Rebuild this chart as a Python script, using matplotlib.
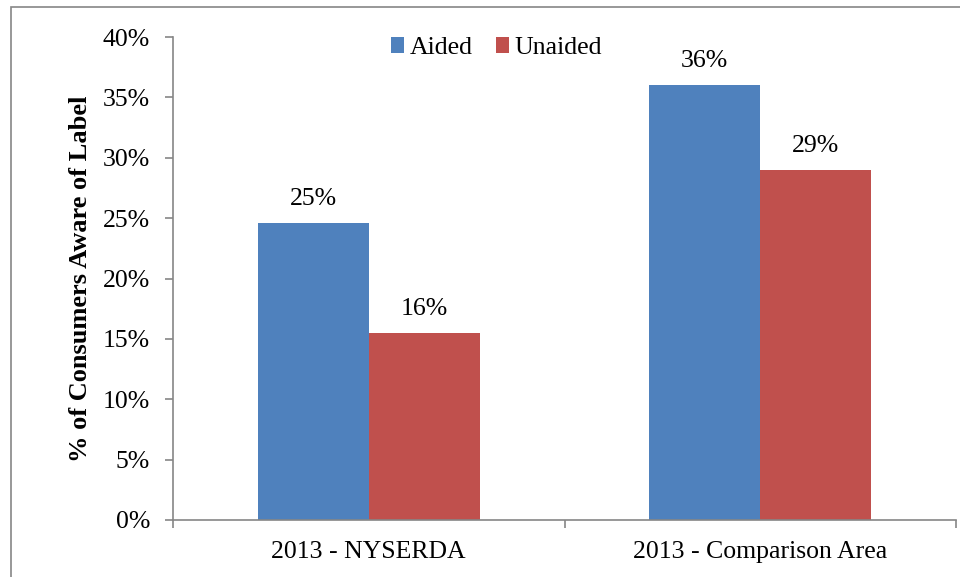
import numpy as np
import matplotlib.pyplot as plt
from matplotlib.patches import Rectangle
from matplotlib.ticker import FixedLocator

categories = ['2013 - NYSERDA', '2013 - Comparison Area']
aided = [24.6, 36.0]
unaided = [15.5, 29.0]
aided_labels = ['25%', '36%']
unaided_labels = ['16%', '29%']
yticks = [0, 5, 10, 15, 20, 25, 30, 35, 40]

plt.rcParams['font.family'] = ['Liberation Serif', 'DejaVu Serif']
fs = 18.5

fig = plt.figure(figsize=(9.6, 5.77), dpi=100)
ax = fig.add_axes([173/960, 57/577, 783/960, 483/577])

# outer chart border
fig.patches.append(Rectangle((10.5/960, -0.1), 1.2, (577-6.5)/577 + 0.1,
                             transform=fig.transFigure, fill=False,
                             edgecolor='#868686', linewidth=1.2))

x = np.arange(len(categories))
w = 0.284
b1 = ax.bar(x - w/2, aided, w, color='#4F81BD', label='Aided')
b2 = ax.bar(x + w/2, unaided, w, color='#C0504D', label='Unaided')

for rect, lab in zip(b1, aided_labels):
    ax.text(rect.get_x() + rect.get_width()/2, rect.get_height() + 1.1, lab,
            ha='center', va='bottom', fontsize=fs)
for rect, lab in zip(b2, unaided_labels):
    ax.text(rect.get_x() + rect.get_width()/2, rect.get_height() + 1.1, lab,
            ha='center', va='bottom', fontsize=fs)

ax.set_xlim(-0.5, 1.5)
ax.set_ylim(0, 40)
ax.set_yticks(yticks)
ax.set_yticklabels([f'{v}%' for v in yticks], fontsize=fs)
ax.set_xticks(x)
ax.set_xticklabels(categories, fontsize=fs)
ax.tick_params(axis='x', which='major', length=0, pad=15)
ax.xaxis.set_minor_locator(FixedLocator([-0.5, 0.5, 1.5]))
ax.tick_params(axis='x', which='minor', length=5.5, color='#868686', width=1.2)
ax.tick_params(axis='y', length=5.5, color='#868686', width=1.2, pad=11)

for s in ['top', 'right']:
    ax.spines[s].set_visible(False)
for s in ['left', 'bottom']:
    ax.spines[s].set_color('#868686')
    ax.spines[s].set_linewidth(1.2)

ax.set_ylabel('% of Consumers Aware of Label', fontsize=fs + 0.5,
              fontweight='bold', labelpad=8)

ax.legend(loc='center', bbox_to_anchor=(0.413, 0.977), ncol=2,
          frameon=False, fontsize=fs, handlelength=0.53, handleheight=0.53,
          handletextpad=0.2, columnspacing=0.9, borderpad=0, borderaxespad=0)

fig.savefig('out.png', dpi=100)
